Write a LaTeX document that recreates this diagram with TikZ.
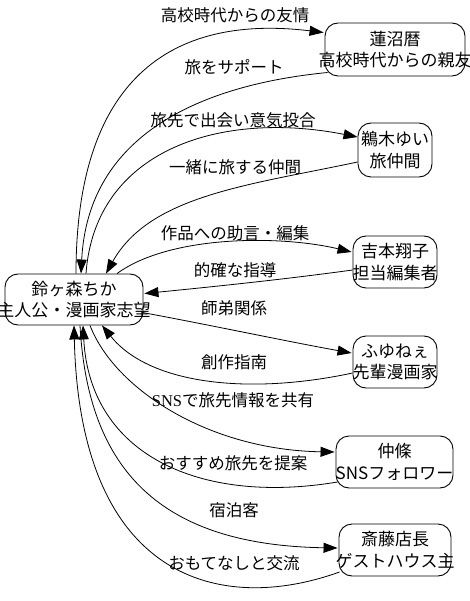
\documentclass[tikz,border=0pt]{standalone}
\usepackage{fontspec}
\setmainfont{Noto Sans CJK JP}
\newfontfamily\serifsns{Liberation Serif}
\usetikzlibrary{arrows.meta,calc}
\begin{document}
\begin{tikzpicture}[x=1pt,y=-1pt,
  box/.style={draw, rounded corners=13pt, line width=0.9pt, inner sep=0pt},
  lbl/.style={font=\fontsize{17}{21.5}\selectfont, align=center, inner sep=0pt},
  elab/.style={font=\fontsize{16.5}{20}\selectfont, inner sep=0pt},
  e/.style={line width=0.8pt, -{Triangle[length=14pt,width=10pt]}},
]
\useasboundingbox (0,0) rectangle (469,601);

% boxes
\node[box, minimum width=138pt, minimum height=51pt] (main) at (74,299.5) {};
\node[box, minimum width=140pt, minimum height=53pt] (ren) at (395,49.5) {};
\node[box, minimum width=74pt, minimum height=54pt] (uki) at (395,150) {};
\node[box, minimum width=84pt, minimum height=52pt] (yoshi) at (395,262) {};
\node[box, minimum width=84pt, minimum height=52pt] (fuyu) at (395,362) {};
\node[box, minimum width=117pt, minimum height=52pt] (naka) at (394.5,462) {};
\node[box, minimum width=112pt, minimum height=52pt] (sai) at (395,550) {};

% box texts
\node[lbl] (mainT) at (main.center) {鈴ヶ森ちか\\主人公・漫画家志望};
\node[lbl] (renT) at (ren.center) {蓮沼暦\\高校時代からの親友};
\node[lbl] (ukiT) at (uki.center) {鵜木ゆい\\旅仲間};
\node[lbl] (yoshiT) at (yoshi.center) {吉本翔子\\担当編集者};
\node[lbl] (fuyuT) at (fuyu.center) {ふゆねぇ\\先輩漫画家};
\node[lbl] (nakaT) at (naka.center) {仲條\\SNSフォロワー};
\node[lbl] (saiT) at (sai.center) {斎藤店長\\ゲストハウス主};

% edges
\draw[e] ($(main.north)+(2,0)$) .. controls (76,70) and (180,15) .. ($(ren.west)+(-1,-17)$);
\draw[e] ($(ren.west)+(3,23)$) .. controls (200,85) and (88,135) .. ($(main.north)+(7,0)$);
\draw[e] ($(main.north)+(12,0)$) .. controls (95,150) and (220,110) .. ($(uki.west)+(0,-13)$);
\draw[e] ($(uki.west)+(0,12)$) .. controls (250,185) and (150,195) .. ($(main.north)+(32,0)$);
\draw[e] ($(main.north)+(43,0)$) .. controls (170,235) and (280,235) .. ($(yoshi.west)+(-1,-10)$);
\draw[e] ($(yoshi.west)+(0,8)$) .. controls (280,280) and (200,288) .. ($(main.east)+(1,-6)$);
\draw[e] ($(main.east)+(-1,13)$) .. controls (210,325) and (290,342) .. ($(fuyu.west)+(-1,-9)$);
\draw[e] ($(fuyu.west)+(0,11)$) .. controls (250,395) and (150,385) .. ($(main.south)+(28,0)$);
\draw[e] ($(main.south)+(16,0)$) .. controls (115,390) and (210,450) .. ($(naka.west)+(-1,-10)$);
\draw[e] ($(naka.west)+(2,20)$) .. controls (200,505) and (90,455) .. ($(main.south)+(9,0)$);
\draw[e] ($(main.south)+(6,0)$) .. controls (88,470) and (160,545) .. ($(sai.west)+(-1,-2)$);
\draw[e] ($(sai.west)+(1,22)$) .. controls (220,615) and (80,580) .. ($(main.south)+(0,0)$);

% edge labels
\node[elab] (l1) at (235,15) {高校時代からの友情};
\node[elab] (l2) at (234,67) {旅をサポート};
\node[elab] (l3) at (233,120) {旅先で出会い意気投合};
\node[elab] (l4) at (235,167) {一緒に旅する仲間};
\node[elab] (l5) at (235,233) {作品への助言・編集};
\node[elab] (l6) at (235,270) {的確な指導};
\node[elab] (l7) at (234,308) {師弟関係};
\node[elab] (l8) at (234,362) {創作指南};
\node[elab] (l9) at (233,400) {{\serifsns SNS}で旅先情報を共有};
\node[elab] (l10) at (233,463) {おすすめ旅先を提案};
\node[elab] (l11) at (234,510) {宿泊客};
\node[elab] (l12) at (234,563) {おもてなしと交流};
\end{tikzpicture}
\end{document}
